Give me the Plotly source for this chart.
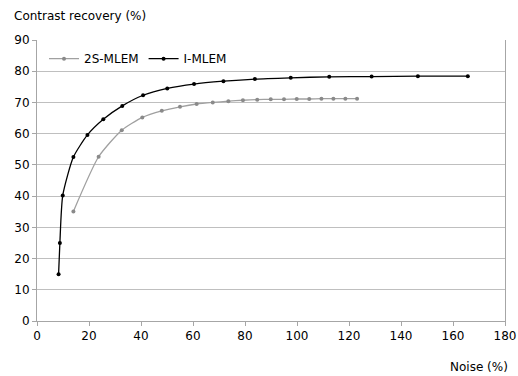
import plotly.graph_objects as go

imlem_x = [8.3, 8.8, 9.9, 14.0, 19.4, 25.5, 32.8, 40.8, 50.1, 60.4, 71.7, 83.8, 97.6, 112.4, 128.7, 146.5, 165.7]
imlem_y = [15.0, 25.0, 40.2, 52.5, 59.6, 64.6, 68.9, 72.3, 74.5, 75.9, 76.8, 77.5, 77.9, 78.2, 78.3, 78.4, 78.4]

s2_x = [14.0, 23.7, 32.6, 40.5, 48.0, 55.0, 61.4, 67.6, 73.6, 79.2, 84.7, 89.9, 95.0, 99.9, 104.7, 109.4, 114.0, 118.6, 123.1]
s2_y = [35.1, 52.6, 61.1, 65.2, 67.3, 68.6, 69.5, 70.0, 70.4, 70.7, 70.9, 71.0, 71.0, 71.1, 71.1, 71.2, 71.2, 71.2, 71.2]

x_ticks = [0, 20, 40, 60, 80, 100, 120, 140, 160, 180]
y_ticks = [0, 10, 20, 30, 40, 50, 60, 70, 80, 90]

FONT = "DejaVu Sans"

fig = go.Figure()
fig.add_trace(go.Scatter(
    x=s2_x, y=s2_y, name="2S-MLEM", mode="lines+markers",
    line=dict(color="#a0a0a0", width=1.3, shape="spline", smoothing=0.6),
    marker=dict(color="#8a8a8a", size=4, symbol="circle"),
))
fig.add_trace(go.Scatter(
    x=imlem_x, y=imlem_y, name="I-MLEM", mode="lines+markers",
    line=dict(color="#000000", width=1.3, shape="spline", smoothing=0.6),
    marker=dict(color="#000000", size=4, symbol="circle"),
))

fig.update_layout(
    width=518, height=376,
    margin=dict(l=37, r=13, t=40, b=55, autoexpand=False),
    paper_bgcolor="white", plot_bgcolor="white",
    font=dict(family=FONT, size=12, color="#000"),
    showlegend=True,
    legend=dict(orientation="h", x=0.015, y=0.985, xanchor="left", yanchor="top",
                font=dict(family=FONT, size=12, color="#000"),
                bgcolor="rgba(0,0,0,0)", tracegroupgap=0),
    xaxis=dict(range=[0, 180], tickvals=x_ticks, showgrid=False, zeroline=False,
               showline=True, linecolor="#a6a6a6", linewidth=1, automargin=False,
               ticks="outside", ticklen=4, tickcolor="#a6a6a6",
               tickfont=dict(family=FONT, size=12, color="#000")),
    yaxis=dict(range=[0, 90], tickvals=y_ticks, showgrid=True, gridcolor="#bfbfbf",
               gridwidth=1, zeroline=False, showline=True, linecolor="#a6a6a6",
               linewidth=1, mirror=True, ticks="outside", ticklen=4, tickcolor="#a6a6a6",
               automargin=False,
               tickfont=dict(family=FONT, size=12, color="#000")),
    annotations=[
        dict(text="Contrast recovery (%)", x=0, y=1, xref="paper", yref="paper",
             xshift=-25, yshift=33, xanchor="left", yanchor="top", showarrow=False,
             font=dict(family=FONT, size=12, color="#000")),
        dict(text="Noise (%)", x=1, y=0, xref="paper", yref="paper",
             xshift=5, yshift=-37, xanchor="right", yanchor="top", showarrow=False,
             font=dict(family=FONT, size=12, color="#000")),
    ],
)

fig.write_html("out.html")
